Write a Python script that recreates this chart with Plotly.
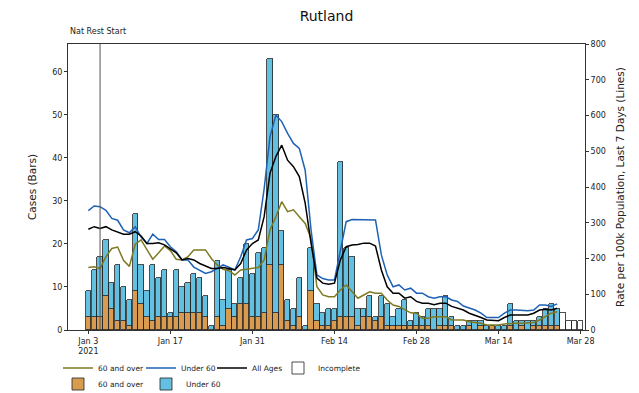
import pandas as pd
import plotly.graph_objects as go

start = "2021-01-03"
# Daily cases (bars), Jan 3 .. Mar 24 complete
total_cases = [9, 14, 17, 21, 11, 15, 10, 7, 27, 15, 9, 15, 12, 14, 4, 14, 10, 11, 13, 12,
               8, 1, 16, 7, 14, 6, 12, 20, 13, 18, 19, 63, 50, 23, 7, 5, 12, 1, 19, 6,
               4, 5, 5, 39, 19, 17, 5, 5, 8, 3, 8, 6, 3, 5, 7, 2, 4, 3, 5, 5,
               5, 8, 3, 1, 1, 2, 2, 2, 1, 1, 1, 1, 6, 2, 2, 2, 2, 3, 5, 6, 5]
cases_60_over = [3, 3, 3, 8, 5, 2, 2, 1, 9, 6, 3, 2, 3, 3, 3, 3, 4, 4, 4, 4,
                 3, 0, 3, 1, 5, 3, 6, 6, 3, 3, 4, 15, 4, 15, 2, 1, 3, 0, 9, 2,
                 1, 1, 2, 3, 3, 3, 1, 3, 3, 2, 3, 1, 1, 1, 1, 1, 1, 1, 1, 0,
                 1, 1, 1, 0, 0, 1, 0, 1, 0, 1, 0, 0, 1, 0, 1, 0, 1, 1, 1, 1, 1]
incomplete_cases = [4, 2, 2, 2]   # Mar 25 .. Mar 28

# Rolling 7-day rate per 100k (lines), Jan 3 .. Mar 23
rate_60_over = [175, 177, 172, 205, 228, 232, 195, 178, 240, 252, 225, 198, 216, 235, 222, 198, 196, 205, 224, 224,
                224, 200, 182, 170, 166, 154, 168, 170, 172, 175, 196, 280, 317, 359, 331, 336, 317, 298, 256, 121,
                98, 93, 93, 112, 126, 107, 89, 98, 107, 103, 103, 84, 70, 66, 56, 48, 47, 33, 33, 37,
                37, 37, 28, 28, 28, 23, 21, 19, 14, 14, 14, 17, 19, 19, 19, 19, 21, 28, 37, 47, 51]
rate_under_60 = [334, 347, 345, 335, 312, 307, 280, 272, 289, 260, 242, 268, 253, 253, 233, 219, 196, 196, 176, 168,
                 158, 163, 172, 182, 176, 168, 205, 252, 256, 280, 395, 541, 601, 583, 550, 522, 508, 447, 280, 154,
                 144, 140, 140, 219, 303, 309, 309, 309, 309, 308, 210, 154, 121, 126, 112, 117, 103, 103, 93, 89,
                 93, 93, 84, 80, 67, 61, 56, 47, 35, 35, 35, 47, 56, 56, 54, 54, 56, 70, 70, 66, 73]
rate_all = [282, 289, 284, 289, 280, 275, 268, 268, 275, 263, 242, 242, 244, 238, 228, 216, 196, 200, 196, 186,
            179, 172, 172, 175, 172, 168, 186, 224, 242, 252, 317, 439, 485, 517, 475, 457, 429, 355, 243, 145,
            131, 128, 131, 196, 233, 238, 239, 243, 243, 235, 168, 121, 103, 103, 89, 93, 80, 75, 75, 71,
            75, 75, 66, 61, 56, 47, 42, 35, 28, 26, 26, 35, 42, 42, 42, 42, 47, 56, 58, 56, 61]

tick_dates = ["2021-01-03", "2021-01-17", "2021-01-31", "2021-02-14", "2021-02-28", "2021-03-14", "2021-03-28"]
tick_labels = ["Jan 3<br>2021", "Jan 17", "Jan 31", "Feb 14", "Feb 28", "Mar 14", "Mar 28"]
event_date = "2021-01-05"
event_label = "Nat Rest Start"

dates = pd.date_range(start, periods=len(total_cases) + len(incomplete_cases), freq="D")
d_complete = dates[:len(total_cases)]
d_incomplete = dates[len(total_cases):]
d_lines = dates[:len(rate_all)]
cases_under_60 = [t - o for t, o in zip(total_cases, cases_60_over)]

# page is drawn with an 8px body margin: figure coords = page coords - 8
W, H = 631, 385
ORANGE = "#d99b50"
LIGHTBLUE = "#64c0e0"
OLIVE = "#7d7a22"
BLUE = "#1f62b5"
bar_w = 0.9 * 86400000
edge = dict(color="#222222", width=0.8)
FONT = "DejaVu Sans"

fig = go.Figure()
fig.add_trace(go.Bar(x=d_complete, y=cases_60_over, width=bar_w, name="60 and over",
                     marker=dict(color=ORANGE, line=edge), legend="legend6"))
fig.add_trace(go.Bar(x=d_complete, y=cases_under_60, width=bar_w, name="Under 60",
                     marker=dict(color=LIGHTBLUE, line=edge), legend="legend7"))
fig.add_trace(go.Bar(x=d_incomplete, y=incomplete_cases, width=bar_w, name="Incomplete",
                     marker=dict(color="white", line=edge), legend="legend5"))
fig.add_trace(go.Scatter(x=d_lines, y=rate_60_over, yaxis="y2", mode="lines", name="60 and over",
                         line=dict(color=OLIVE, width=1.5), legend="legend2"))
fig.add_trace(go.Scatter(x=d_lines, y=rate_under_60, yaxis="y2", mode="lines", name="Under 60",
                         line=dict(color=BLUE, width=1.5), legend="legend3"))
fig.add_trace(go.Scatter(x=d_lines, y=rate_all, yaxis="y2", mode="lines", name="All Ages",
                         line=dict(color="black", width=1.5), legend="legend4"))

x0 = pd.Timestamp(start) - pd.Timedelta(days=3.47)
x1 = pd.Timestamp(start) + pd.Timedelta(days=84.75)

fig.add_shape(type="line", xref="x", yref="paper", x0=event_date, x1=event_date, y0=0, y1=1,
              line=dict(color="#555555", width=1))
fig.add_annotation(text=event_label, xref="paper", yref="paper", x=0.0, y=1.0, xanchor="left",
                   yanchor="bottom", yshift=6, showarrow=False, font=dict(size=8, color="#222"))

axis_common = dict(showgrid=False, zeroline=False, showline=True, linecolor="#333333", linewidth=1,
                   ticks="outside", ticklen=3, tickcolor="#333333", tickfont=dict(size=8, color="#222"),
                   automargin=False)


def leg(page_x, page_y):
    fx, fy = page_x - 8, page_y - 8
    return dict(orientation="h", xref="container", yref="container", x=fx / W, y=1 - fy / H,
                xanchor="left", yanchor="middle", font=dict(size=7.5), itemwidth=30,
                bgcolor="rgba(0,0,0,0)")


fig.update_layout(
    width=W, height=H,
    margin=dict(l=60, r=54, t=36, b=63, autoexpand=False),
    paper_bgcolor="white", plot_bgcolor="white",
    font=dict(family=FONT, color="#222"),
    title=dict(text="Rutland", xref="paper", x=0.5, xanchor="center", yref="container",
               y=1 - 8 / H, yanchor="middle", font=dict(size=14, color="#111")),
    barmode="stack", bargap=0,
    xaxis=dict(axis_common, range=[x0, x1], tickvals=tick_dates, ticktext=tick_labels, mirror=True),
    yaxis=dict(axis_common, range=[0, 66.5], tickvals=[0, 10, 20, 30, 40, 50, 60],
               title=dict(text="Cases (Bars)", font=dict(size=10.5), standoff=13)),
    yaxis2=dict(axis_common, range=[0, 800], overlaying="y", side="right",
                tickvals=[0, 100, 200, 300, 400, 500, 600, 700, 800],
                title=dict(text="Rate per 100k Population, Last 7 Days (Lines)", font=dict(size=10.5), standoff=11)),
    legend2=leg(58, 368),
    legend3=leg(141, 368),
    legend4=leg(212, 368),
    legend5=leg(278, 368),
    legend6=leg(58, 384),
    legend7=leg(146, 384),
)

fig.write_html("out.html")
